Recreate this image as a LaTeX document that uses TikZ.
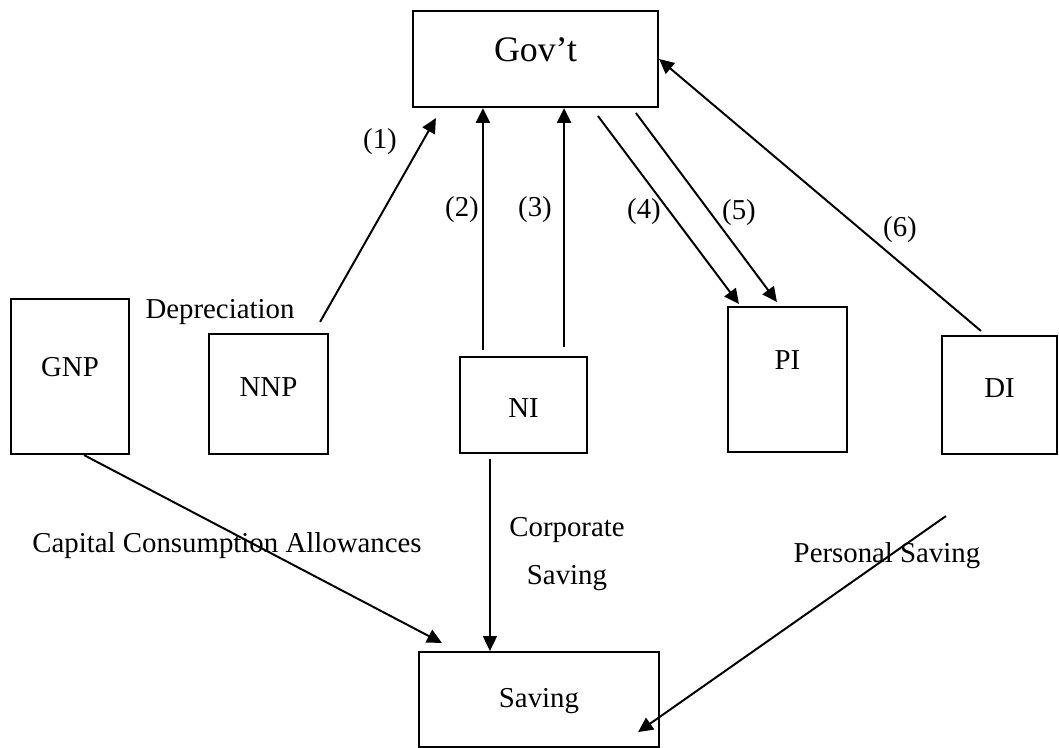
\documentclass[tikz,border=0pt]{standalone}
\usepackage{fontspec}
\setmainfont{Liberation Serif}
\usetikzlibrary{arrows.meta}

\tikzset{
  box/.style={draw, line width=1.5pt, inner sep=0pt},
  flow/.style={line width=1.4pt, -{Triangle[length=10.5pt,width=10pt]}},
}

\begin{document}
\begin{tikzpicture}[x=0.025cm, y=-0.025cm, font=\fontsize{20.5}{24.6}\selectfont]
  \useasboundingbox (0,0) rectangle (1059,748);
  % Boxes
  \node[box, minimum width=6.125cm, minimum height=2.4cm,
    label={[yshift=0.22cm, font=\fontsize{25.5}{30}\selectfont]center:Gov’t}] (gov) at (535.5,59) {};
  \node[box, minimum width=2.95cm, minimum height=3.875cm,
    label={[yshift=0.24cm]center:GNP}] (gnp) at (70,376.5) {};
  \node[box, minimum width=2.975cm, minimum height=3cm,
    label={[yshift=0.17cm]center:NNP}] (nnp) at (268.5,394) {};
  \node[box, minimum width=3.175cm, minimum height=2.4cm,
    label={[yshift=-0.07cm]center:NI}] (ni) at (523.5,405) {};
  \node[box, minimum width=2.975cm, minimum height=3.625cm,
    label={[yshift=0.49cm]center:PI}] (pi) at (787.5,379.5) {};
  \node[box, minimum width=2.875cm, minimum height=2.95cm,
    label={[yshift=0.17cm]center:DI}] (di) at (999.5,395) {};
  \node[box, minimum width=6cm, minimum height=2.375cm,
    label={[yshift=-0.05cm]center:Saving}] (sav) at (539,699.5) {};
  % Flows into and out of Gov't
  \draw[flow] ([xshift=-0.225cm,yshift=0.275cm]nnp.north east) -- ([xshift=0.6cm,yshift=-0.25cm]gov.south west);
  \draw[flow] ([xshift=0.6cm,yshift=0.15cm]ni.north west) coordinate (n2) -- (n2 |- gov.south);
  \draw[flow] ([xshift=-0.6cm,yshift=0.225cm]ni.north east) coordinate (n3) -- (n3 |- gov.south);
  \draw[flow] ([xshift=4.65cm,yshift=-0.2cm]gov.south west) -- ([xshift=0.3cm,yshift=0.05cm]pi.north west);
  \draw[flow] ([xshift=5.6cm,yshift=-0.125cm]gov.south west) -- ([xshift=1.25cm,yshift=0.1cm]pi.north west);
  \draw[flow] ([xshift=1cm,yshift=0.1cm]di.north west) -- (gov.east);
  % Flows into Saving
  \draw[flow] ([xshift=0.35cm]gnp.south) -- ([xshift=0.6cm,yshift=0.2cm]sav.north west);
  \draw[flow, line width=0.8pt] ([xshift=0.775cm,yshift=-0.125cm]ni.south west) coordinate (n8) -- (n8 |- sav.north);
  \draw[flow] ([xshift=0.125cm,yshift=-1.525cm]di.south west) -- ([xshift=-0.55cm,yshift=0.4cm]sav.south east);
  % Labels
  \node (dep) at (220,312) {Depreciation};
  \node (l1) at (380,142) {(1)};
  \node (l2) at (462,210) {(2)};
  \node (l3) at (535,210) {(3)};
  \node (l4) at (644,212) {(4)};
  \node (l5) at (739,213) {(5)};
  \node (l6) at (900,230) {(6)};
  \node (cca) at (227,546) {Capital Consumption Allowances};
  \node[align=center] (corp) at (567,554) {Corporate\\[9pt]Saving};
  \node (pers) at (887,556) {Personal Saving};
\end{tikzpicture}
\end{document}
